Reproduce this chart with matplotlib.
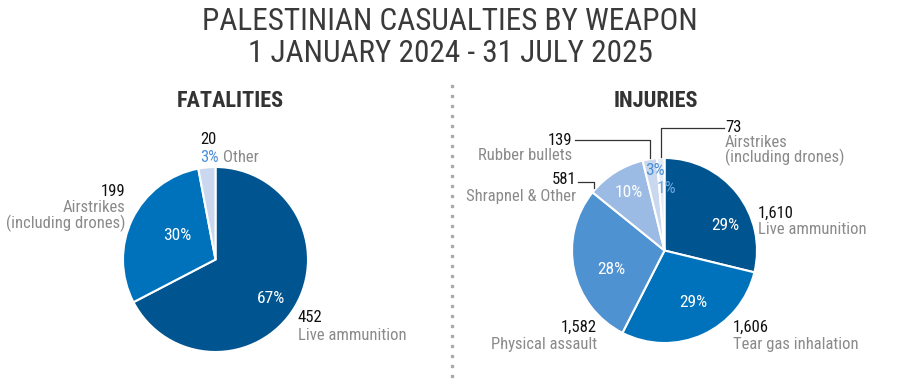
"""Palestinian casualties by weapon - two pies"""

import matplotlib
matplotlib.use("Agg")
import matplotlib.pyplot as plt
from matplotlib.lines import Line2D
import numpy as np

# ── data ──────────────────────────────────────────────
fat_labels = ["Live ammunition", "Airstrikes\n(including drones)", "Other"]
fat_values = [452, 199, 20]
fat_pct = ["67%", "30%", "3%"]

inj_labels = ["Live ammunition", "Tear gas inhalation", "Physical assault",
              "Shrapnel & Other", "Rubber bullets", "Airstrikes\n(including drones)"]
inj_values = [1610, 1606, 1582, 581, 139, 73]
inj_pct = ["29%", "29%", "28%", "10%", "3%", "1%"]

# ── style ─────────────────────────────────────────────
plt.rcParams.update({
    "font.family": ["Roboto Condensed", "Roboto", "DejaVu Sans"],
    "figure.facecolor": "white",
})

DARK = "#00548f"
MID = "#0072bb"
LIGHT1 = "#4f92d2"
LIGHT2 = "#9cbbe4"
LIGHT3 = "#c9d8ef"
LIGHT4 = "#e2eaf6"
PCT_BLUE = "#4a8fd6"
GREY = "#8a8a8a"
W, H = 900, 389

fig = plt.figure(figsize=(9, 3.89), dpi=100)


def fx(x):
    return x / W


def fy(y):
    return 1 - y / H


def pie_axes(cx, cy, r):
    ax = fig.add_axes([fx(cx - r), fy(cy + r), 2 * r / W, 2 * r / H])
    return ax


def fix_limits(ax):
    ax.set_xlim(-1, 1)
    ax.set_ylim(-1, 1)
    ax.axis("off")


R = 92.5

# fatalities pie
ax1 = pie_axes(215.5, 259.5, R)
ax1.pie(fat_values, colors=[DARK, MID, LIGHT3], startangle=90, counterclock=False,
        radius=1, wedgeprops=dict(edgecolor="white", linewidth=1.5))
fix_limits(ax1)

# injuries pie
ax2 = pie_axes(664.5, 250.5, R)
ax2.pie(inj_values, colors=[DARK, MID, LIGHT1, LIGHT2, LIGHT3, LIGHT4], startangle=90,
        counterclock=False, radius=1, wedgeprops=dict(edgecolor="white", linewidth=1.5))
fix_limits(ax2)

# percentage labels (pixel offsets from pie centre)
PFS = 12.5
fat_pct_pos = [(55, -39), (-38, 24)]
for (dx, dy), t in zip(fat_pct_pos, fat_pct[:2]):
    ax1.text(dx / R, dy / R, t, color="white", fontsize=PFS, ha="center", va="center")

inj_pct_pos = [(61, 25), (29, -52), (-53, -19), (-36, 58), (-10, 80), (2, 62)]
inj_pct_col = ["white", "white", "white", "white", PCT_BLUE, "#6fa6df"]
for (dx, dy), t, c in zip(inj_pct_pos, inj_pct, inj_pct_col):
    ax2.text(dx / R, dy / R, t, color=c, fontsize=PFS, ha="center", va="center")

# ── titles ────────────────────────────────────────────
fig.text(0.5, fy(22), "PALESTINIAN CASUALTIES BY WEAPON", ha="center", va="center",
         fontsize=22.5, color="#3a3a3a")
fig.text(0.5, fy(54), "1 JANUARY 2024 - 31 JULY 2025", ha="center", va="center",
         fontsize=22.5, color="#3a3a3a")
fig.text(fx(230), fy(101), "FATALITIES", ha="center", va="center", fontsize=16,
         fontweight="bold", color="#333333")
fig.text(fx(656), fy(101), "INJURIES", ha="center", va="center", fontsize=16,
         fontweight="bold", color="#333333")

# dotted separator
sep_y = np.arange(86, 384, 10)
fig.add_artist(Line2D([fx(452)] * len(sep_y), [fy(v) for v in sep_y], transform=fig.transFigure,
                      linestyle="none", marker="s", markersize=2, color="#aaaaaa"))

FS = 12


def callout(x, y, value, label, ha, gap=17, pitch=15):
    fig.text(fx(x), fy(y), f"{value:,}", ha=ha, va="center", fontsize=FS, color="#111111")
    for i, line in enumerate(label.split("\n")):
        fig.text(fx(x), fy(y + gap + pitch * i), line, ha=ha, va="center", fontsize=FS,
                 color=GREY)


# fatalities callouts
callout(298, 317, fat_values[0], fat_labels[0], "left", gap=18)
callout(125, 192, fat_values[1], fat_labels[1], "right", gap=16)
fig.text(fx(200), fy(140), f"{fat_values[2]}", ha="left", va="center", fontsize=FS,
         color="#111111")
fig.text(fx(200), fy(157), fat_pct[2], ha="left", va="center", fontsize=FS, color=PCT_BLUE)
fig.text(fx(223), fy(157), fat_labels[2], ha="left", va="center", fontsize=FS, color=GREY)

# injuries callouts
callout(758, 213, inj_values[0], inj_labels[0], "left", gap=16)
callout(733, 327, inj_values[1], inj_labels[1], "left", gap=18)
callout(597, 327, inj_values[2], inj_labels[2], "right", gap=18)
callout(576, 180, inj_values[3], inj_labels[3], "right", gap=17)
callout(572, 141, inj_values[4], inj_labels[4], "right", gap=14)
callout(725, 127, inj_values[5], inj_labels[5], "left", gap=15)

# leader lines
lines = [
    ([575, 650, 650], [140, 140, 158]),
    ([724, 661, 661], [128, 128, 157]),
    ([578, 594, 594], [182, 182, 188]),
]
for xs, ys in lines:
    fig.add_artist(Line2D([fx(v) for v in xs], [fy(v) for v in ys], transform=fig.transFigure,
                          color="#333333", linewidth=0.9))

plt.savefig("out.png", dpi=100)
plt.close()
